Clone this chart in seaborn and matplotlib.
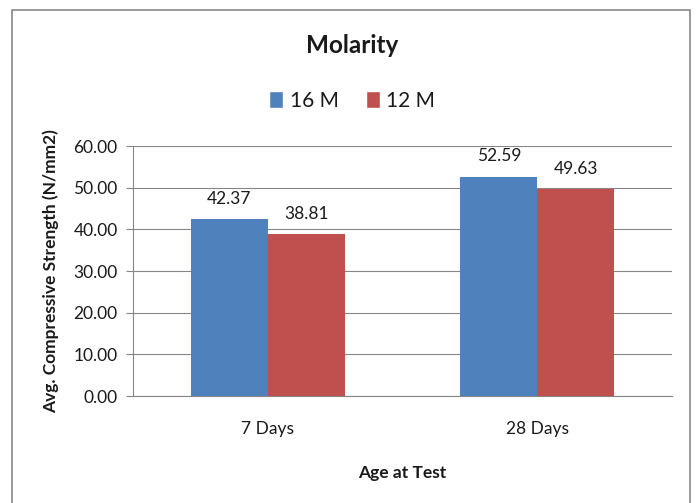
import matplotlib
matplotlib.use("Agg")
import matplotlib.pyplot as plt
import seaborn as sns
import pandas as pd
from matplotlib.patches import Rectangle

# data
ages = ['7 Days', '28 Days']
molarity = ['16 M', '12 M']
strength_16m = [42.37, 52.59]
strength_12m = [38.81, 49.63]
colors = ['#4F81BD', '#C0504D']

df = pd.DataFrame({
    'Age': ages * 2,
    'Molarity': [molarity[0]] * 2 + [molarity[1]] * 2,
    'Strength': strength_16m + strength_12m,
})

sns.set_style('white')
plt.rcParams['font.family'] = ['Lato', 'DejaVu Sans']
txt = '#1a1a1a'

fig = plt.figure(figsize=(6.97, 5.03), dpi=100)
ax = fig.add_axes([0.1908, 0.2127, 0.7732, 0.497])

sns.barplot(data=df, x='Age', y='Strength', hue='Molarity', palette=colors,
            width=0.57, saturation=1, ax=ax, edgecolor='none', legend=False, zorder=3)

for cont in ax.containers:
    ax.bar_label(cont, fmt='%.2f', padding=9, fontsize=12.5, color=txt)

ax.set_ylim(0, 60)
ax.set_yticks(range(0, 61, 10))
ax.set_yticklabels([f'{v:.2f}' for v in range(0, 61, 10)], fontsize=12.5, color=txt)
ax.set_xlim(-0.5, 1.5)
ax.set_xticks([0, 1])
ax.set_xticklabels(ages, fontsize=12.5, color=txt)
ax.set_xticks([-0.5, 0.5, 1.5], minor=True)
ax.tick_params(axis='x', which='major', length=0, pad=18)
ax.tick_params(axis='x', which='minor', length=5, color='#868686', width=0.8)
ax.tick_params(axis='y', length=5, color='#868686', width=0.8, pad=6, left=True)

ax.yaxis.grid(True, color='#868686', linewidth=0.8, zorder=0)
ax.set_axisbelow(True)
for side in ['top', 'right']:
    ax.spines[side].set_visible(False)
for side in ['left', 'bottom']:
    ax.spines[side].set_color('#868686')
    ax.spines[side].set_linewidth(0.8)

ax.set_xlabel('Age at Test', fontsize=12.5, fontweight='bold', labelpad=20, color=txt)
ax.set_ylabel('Avg. Compressive Strength (N/mm2)', fontsize=12.5, fontweight='bold',
              labelpad=10, color=txt)

fig.text(0.505, 0.91, 'Molarity', ha='center', va='center', fontsize=17.5,
         fontweight='bold', color=txt)

handles = [Rectangle((0, 0), 1, 1, facecolor=c) for c in colors]
fig.legend(handles, molarity, loc='center', bbox_to_anchor=(0.505, 0.80), ncol=2,
           frameon=False, fontsize=15, handlelength=0.7, handleheight=0.85,
           handletextpad=0.3, columnspacing=1.3, labelcolor=txt)

# outer chart border
fig.patches.append(Rectangle((12 / 697, -0.02), 678 / 697, 1.02 - 10 / 503,
                             transform=fig.transFigure, fill=False,
                             edgecolor='#888888', linewidth=1.2))

fig.savefig('out.png', dpi=100)
